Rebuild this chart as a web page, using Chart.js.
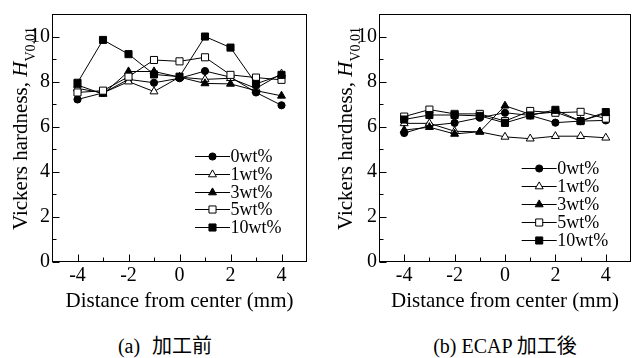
<!DOCTYPE html>
<html><head><meta charset="utf-8">
<script src="https://cdn.jsdelivr.net/npm/chart.js@4.4.0/dist/chart.umd.min.js"></script>
<style>
body{margin:0;background:#fff;width:637px;height:358px;overflow:hidden;position:relative;}
canvas{position:absolute;top:0;}
.cap{position:absolute;top:334px;line-height:24px;font-size:20px;font-family:'Liberation Serif','Noto Sans CJK JP',serif;color:#000;white-space:nowrap;transform:translateX(-50%);}
</style></head><body>
<canvas id="c1" width="318" height="320" style="left:0"></canvas>
<canvas id="c2" width="319" height="320" style="left:318px"></canvas>
<div class="cap" style="left:165px;word-spacing:7px">(a) 加工前</div>
<div class="cap" style="left:505px">(b) ECAP 加工後</div>
<script>
const positions = [-4,-3,-2,-1,0,1,2,3,4];
const seriesNames = ['0wt%','1wt%','3wt%','5wt%','10wt%'];
// (a) before processing
const a0  = [7.21,7.50,8.10,7.95,8.15,8.47,8.20,7.52,6.95];
const a1  = [7.70,7.50,8.00,7.56,8.20,8.10,8.15,7.70,8.35];
const a3  = [7.85,7.45,8.45,8.45,8.20,7.92,7.90,7.60,7.37];
const a5  = [7.52,7.60,8.22,8.96,8.90,9.08,8.30,8.18,8.08];
const a10 = [7.95,9.85,9.22,8.32,8.22,10.0,9.51,7.90,8.30];
// (b) after ECAP
const b0  = [5.72,6.05,6.17,6.40,6.62,6.50,6.18,6.25,6.28];
const b1  = [6.15,6.15,5.80,5.77,5.55,5.47,5.58,5.58,5.51];
const b3  = [5.85,5.98,5.68,5.78,6.93,6.55,6.65,6.25,6.60];
const b5  = [6.45,6.76,6.57,6.57,6.25,6.70,6.62,6.66,6.36];
const b10 = [6.32,6.52,6.52,6.48,6.17,6.50,6.75,6.25,6.65];
const xTickValues = [-4,-2,0,2,4];
const xMinorTicks = [-3,-1,1,3];
const yTickValues = [0,2,4,6,8,10];
const yMinorTicks = [1,3,5,7,9];

const SERIF = "'Liberation Serif','Times New Roman',serif";
const styles = [
  {pointStyle:'circle',   radius:3.6, fill:'#000'},
  {pointStyle:'triangle', radius:4.6, fill:'#fff'},
  {pointStyle:'triangle', radius:4.6, fill:'#000'},
  {pointStyle:'rect',     radius:5.0, fill:'#fff'},
  {pointStyle:'rect',     radius:5.0, fill:'#000'}
];

function makeDatasets(seriesList){
  return seriesList.map((vals,k)=>({
    label: seriesNames[k],
    data: positions.map((x,i)=>({x:x, y:vals[i]})),
    borderColor:'#000', borderWidth:1, tension:0,
    pointStyle: styles[k].pointStyle,
    pointRadius: styles[k].radius,
    pointHoverRadius: styles[k].radius,
    pointBackgroundColor: styles[k].fill,
    pointBorderColor:'#000', pointBorderWidth:1,
    fill:false,
    order: 4-k
  }));
}

const decorPlugin = {
  id:'decor',
  afterDatasetsDraw(chart, args, o){
    const {ctx, chartArea:a, scales:{x,y}} = chart;
    ctx.save();
    ctx.strokeStyle='#000'; ctx.lineWidth=1;
    const L=Math.round(a.left)+0.5, R=Math.round(a.right)-0.5, T=Math.round(a.top)+0.5, B=Math.round(a.bottom)-0.5;
    ctx.strokeRect(L,T,R-L,B-T);
    ctx.beginPath();
    xTickValues.forEach(v=>{const px=Math.round(x.getPixelForValue(v))+0.5; ctx.moveTo(px,B); ctx.lineTo(px,B-7);});
    xMinorTicks.forEach(v=>{const px=Math.round(x.getPixelForValue(v))+0.5; ctx.moveTo(px,B); ctx.lineTo(px,B-4);});
    yTickValues.forEach(v=>{const py=Math.round(y.getPixelForValue(v))+0.5; ctx.moveTo(L,py); ctx.lineTo(L+7,py);});
    yMinorTicks.forEach(v=>{const py=Math.round(y.getPixelForValue(v))+0.5; ctx.moveTo(L,py); ctx.lineTo(L+4,py);});
    ctx.stroke();
    // legend
    const lx0 = a.right - o.legendRightOffset, lx1 = lx0 + 35;
    chart.data.datasets.forEach((ds,k)=>{
      const yy = Math.round(o.legendTop + k*17.9)+0.5;
      ctx.beginPath(); ctx.moveTo(lx0,yy); ctx.lineTo(lx1,yy); ctx.stroke();
      ctx.fillStyle = styles[k].fill; ctx.strokeStyle='#000'; ctx.lineWidth=1;
      Chart.helpers.drawPoint(ctx,{pointStyle:styles[k].pointStyle, radius:styles[k].radius, rotation:0, borderWidth:1}, (lx0+lx1)/2, yy);
      ctx.fillStyle='#000';
      ctx.font = '18px '+SERIF; ctx.textBaseline='middle'; ctx.textAlign='left';
      ctx.fillText(ds.label, lx1+0.5, yy+1);
    });
    // y title with italic H and subscript
    ctx.translate(o.titleBaseX, o.titleStartY);
    ctx.rotate(-Math.PI/2);
    ctx.fillStyle='#000'; ctx.textBaseline='alphabetic'; ctx.textAlign='left';
    ctx.font='21px '+SERIF;
    let t='Vickers hardness, ';
    ctx.fillText(t,0,0);
    let w=ctx.measureText(t).width;
    ctx.font='italic 21px '+SERIF;
    ctx.fillText('H',w,0);
    w+=ctx.measureText('H').width;
    ctx.font='14px '+SERIF;
    ctx.fillText('V0.01',w,8);
    ctx.restore();
  }
};

function makeChart(id, seriesList, yWidth, padRight, opt){
  return new Chart(document.getElementById(id),{
    type:'line',
    data:{datasets: makeDatasets(seriesList)},
    options:{
      responsive:false, animation:false, devicePixelRatio:1,
      layout:{padding:{left:0,right:padRight,top:6,bottom:0}},
      plugins:{legend:{display:false}, tooltip:{enabled:false}, decor:opt},
      scales:{
        x:{type:'linear', min:-5, max:5,
           afterBuildTicks:s=>{s.ticks=xTickValues.map(v=>({value:v}));},
           ticks:{color:'#000', font:{family:SERIF,size:20}, padding:2, callback:v=>String(v), maxRotation:0, autoSkip:false},
           grid:{display:false, drawTicks:false}, border:{display:false},
           title:{display:true, text:'Distance from center (mm)', color:'#000', font:{family:SERIF,size:21}, padding:{top:0,bottom:6}},
           afterFit:s=>{s.height=58;}},
        y:{type:'linear', min:0, max:11,
           afterBuildTicks:s=>{s.ticks=yTickValues.map(v=>({value:v}));},
           ticks:{color:'#000', font:{family:SERIF,size:20}, padding:2, callback:v=>String(v), autoSkip:false},
           grid:{display:false, drawTicks:false}, border:{display:false},
           afterFit:s=>{s.width=yWidth;}}
      }
    },
    plugins:[decorPlugin]
  });
}

makeChart('c1',[a0,a1,a3,a5,a10],52,11,{legendRightOffset:112, legendTop:155.7, titleBaseX:27, titleStartY:230});
makeChart('c2',[b0,b1,b3,b5,b10],61,3,{legendRightOffset:109.3, legendTop:168.3, titleBaseX:33.5, titleStartY:230});
</script>
</body></html>
